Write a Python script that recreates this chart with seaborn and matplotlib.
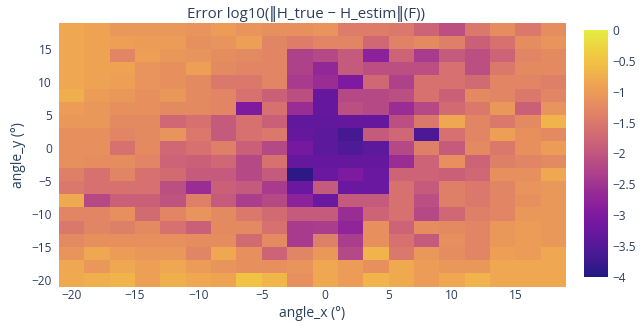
import numpy as np
import pandas as pd
import matplotlib
matplotlib.use("Agg")
import matplotlib.pyplot as plt
import matplotlib.colors as mcolors
import seaborn as sns

# Cell centres (degrees)
angle_x = [-20, -18, -16, -14, -12, -10, -8, -6, -4, -2, 0, 2, 4, 6, 8, 10, 12, 14, 16, 18]
angle_y = [18, 16, 14, 12, 10, 8, 6, 4, 2, 0, -2, -4, -6, -8, -10, -12, -14, -16, -18, -20]

# log10 Frobenius error, one row per angle_y (top to bottom), one column per angle_x
err_y18 = [-0.85, -0.9, -1.05, -1.05, -1.05, -1.1, -1.0, -1.1, -1.15, -1.15, -1.1, -1.45, -1.45, -1.5, -1.8, -2.1, -1.5, -1.2, -1.5, -1.2]
err_y16 = [-0.85, -0.9, -0.95, -1.0, -1.0, -1.15, -1.1, -0.95, -1.3, -1.45, -1.3, -1.3, -1.75, -1.35, -1.25, -1.4, -1.85, -1.6, -1.2, -1.1]
err_y14 = [-0.85, -0.9, -1.3, -0.95, -1.05, -1.1, -1.2, -1.25, -1.3, -2.3, -2.2, -1.95, -2.8, -1.8, -2.4, -1.95, -2.1, -1.8, -1.3, -1.25]
err_y12 = [-0.85, -0.9, -0.9, -1.1, -1.15, -0.95, -1.25, -1.3, -1.3, -2.3, -2.7, -1.95, -2.1, -2.1, -2.1, -1.6, -2.1, -1.5, -1.25, -1.25]
err_y10 = [-0.85, -0.9, -0.95, -1.1, -1.15, -1.25, -1.5, -1.5, -1.3, -2.4, -2.6, -3.0, -1.75, -2.3, -1.6, -1.6, -1.7, -1.3, -1.3, -1.4]
err_y8 = [-0.75, -1.0, -1.05, -1.15, -1.05, -1.25, -1.3, -1.6, -1.85, -2.1, -3.3, -2.2, -2.2, -2.1, -1.6, -1.85, -1.25, -1.3, -1.5, -1.3]
err_y6 = [-1.0, -1.05, -1.15, -1.15, -1.25, -1.25, -1.3, -3.0, -1.6, -2.6, -3.3, -2.1, -2.2, -2.6, -2.2, -1.7, -1.5, -1.05, -1.85, -1.1]
err_y4 = [-1.05, -1.05, -1.25, -1.25, -1.75, -1.6, -1.95, -1.6, -1.85, -3.35, -3.35, -3.3, -3.3, -2.1, -1.5, -0.85, -1.3, -1.5, -1.25, -0.7]
err_y2 = [-1.15, -1.15, -1.3, -1.25, -1.1, -1.5, -1.95, -1.6, -1.5, -3.3, -3.4, -3.65, -1.95, -1.75, -3.6, -1.6, -1.3, -0.95, -1.15, -1.25]
err_y0 = [-1.15, -1.15, -1.6, -1.25, -1.75, -1.6, -1.4, -1.85, -2.2, -3.1, -3.4, -3.55, -3.4, -2.2, -1.4, -1.95, -1.25, -1.5, -1.15, -1.0]
err_ym2 = [-1.15, -1.2, -1.2, -1.3, -1.8, -1.85, -1.75, -2.2, -1.6, -3.3, -3.3, -3.3, -3.3, -2.6, -1.8, -1.15, -1.8, -1.4, -1.3, -1.25]
err_ym4 = [-1.4, -1.6, -1.3, -1.6, -1.7, -1.95, -1.95, -2.2, -1.95, -3.9, -3.25, -3.0, -3.25, -1.8, -1.8, -1.85, -1.75, -1.15, -1.15, -0.85]
err_ym6 = [-1.5, -1.6, -1.6, -1.6, -2.1, -2.6, -1.85, -1.95, -2.4, -3.25, -1.95, -3.25, -3.25, -1.6, -1.95, -1.4, -1.5, -1.3, -1.1, -1.05]
err_ym8 = [-0.8, -2.2, -1.85, -1.85, -2.05, -1.4, -1.95, -2.35, -2.2, -2.8, -3.25, -1.95, -1.95, -1.6, -2.1, -1.4, -1.5, -1.3, -1.15, -1.05]
err_ym10 = [-1.3, -1.3, -1.15, -1.7, -1.3, -1.1, -1.25, -1.5, -1.7, -1.95, -1.95, -2.6, -1.8, -1.6, -2.2, -1.75, -1.4, -1.3, -1.05, -1.05]
err_ym12 = [-1.5, -1.3, -1.4, -1.25, -1.6, -1.85, -1.25, -1.25, -1.6, -2.4, -2.35, -2.75, -1.15, -1.8, -1.2, -1.25, -1.3, -1.05, -1.0, -1.05]
err_ym14 = [-1.25, -1.15, -1.15, -1.15, -1.15, -1.2, -1.2, -1.7, -1.25, -2.4, -1.4, -2.35, -1.15, -1.6, -1.95, -1.15, -1.3, -1.05, -1.0, -1.05]
err_ym16 = [-1.1, -0.85, -1.0, -1.05, -1.05, -1.3, -0.85, -1.15, -1.8, -1.3, -1.05, -2.2, -0.7, -1.5, -1.05, -1.2, -1.3, -0.95, -1.0, -0.85]
err_ym18 = [-0.85, -1.05, -0.85, -0.95, -0.85, -1.0, -1.1, -1.15, -1.15, -1.1, -0.85, -1.0, -1.15, -0.8, -1.0, -1.05, -1.05, -0.85, -0.85, -0.85]
err_ym20 = [-0.8, -0.75, -0.7, -0.95, -0.75, -0.85, -0.9, -0.5, -0.65, -1.15, -0.85, -1.0, -0.7, -0.8, -1.0, -0.85, -0.7, -0.85, -0.85, -0.85]

x_ticks = [-20, -15, -10, -5, 0, 5, 10, 15]
y_ticks = [-20, -15, -10, -5, 0, 5, 10, 15]
cbar_ticks = [0, -0.5, -1, -1.5, -2, -2.5, -3, -3.5, -4]

grid = pd.DataFrame(
    [err_y18, err_y16, err_y14, err_y12, err_y10, err_y8, err_y6, err_y4, err_y2, err_y0,
     err_ym2, err_ym4, err_ym6, err_ym8, err_ym10, err_ym12, err_ym14, err_ym16, err_ym18, err_ym20],
    index=angle_y, columns=angle_x,
)

# A slightly softened plasma scale
base = plt.get_cmap("plasma")(np.linspace(0, 1, 256))[:, :3]
hsv = mcolors.rgb_to_hsv(base)
hsv[:, 1] *= 0.85
hsv[:, 2] *= 0.95
soft_plasma = mcolors.ListedColormap(mcolors.hsv_to_rgb(hsv), name="soft_plasma")

TXT = "#2a3f5f"
plt.rcParams["font.family"] = ["Open Sans", "DejaVu Sans"]

fig = plt.figure(figsize=(6.44, 3.26), dpi=100)
ax = fig.add_axes([59 / 644, 1 - 286.6 / 326, 507 / 644, 264 / 326])
cax = fig.add_axes([584 / 644, 1 - 277 / 326, 24 / 644, 247 / 326])

sns.heatmap(grid, ax=ax, cmap=soft_plasma, vmin=-4, vmax=0, cbar=True, cbar_ax=cax,
            xticklabels=False, yticklabels=False)

# Map data coordinates (degrees) onto heatmap cell positions
step = 2.0
x0 = angle_x[0] - step / 2
ytop = angle_y[0] + step / 2
ax.set_xticks([(v - x0) / step for v in x_ticks])
ax.set_xticklabels([f"{v}".replace("-", "\u2212") for v in x_ticks])
ax.set_yticks([(ytop - v) / step for v in y_ticks])
ax.set_yticklabels([f"{v}".replace("-", "\u2212") for v in y_ticks], rotation=0)
ax.tick_params(length=0, labelsize=8.6, colors=TXT)
ax.tick_params(axis="x", pad=1.5)
ax.tick_params(axis="y", pad=5)
ax.set_xlabel("angle_x (°)", fontsize=10, color=TXT)
ax.set_ylabel("angle_y (°)", fontsize=10, color=TXT)
ax.xaxis.set_label_coords(0.5, -0.073)
ax.yaxis.set_label_coords(-0.065, 0.5)
for s in ax.spines.values():
    s.set_visible(False)

cb = ax.collections[0].colorbar
cb.set_ticks(cbar_ticks)
cb.set_ticklabels([f"{v:g}".replace("-", "\u2212") for v in cbar_ticks])
cb.outline.set_visible(False)
cax.tick_params(length=0, labelsize=8.6, colors=TXT, pad=3)

fig.text(306 / 644, 1 - 14 / 326, "Error log10(\u2016H_true \u2212 H_estim\u2016(F))",
         ha="center", va="center", fontsize=10.8, color=TXT)

fig.savefig("out.png", dpi=100)
